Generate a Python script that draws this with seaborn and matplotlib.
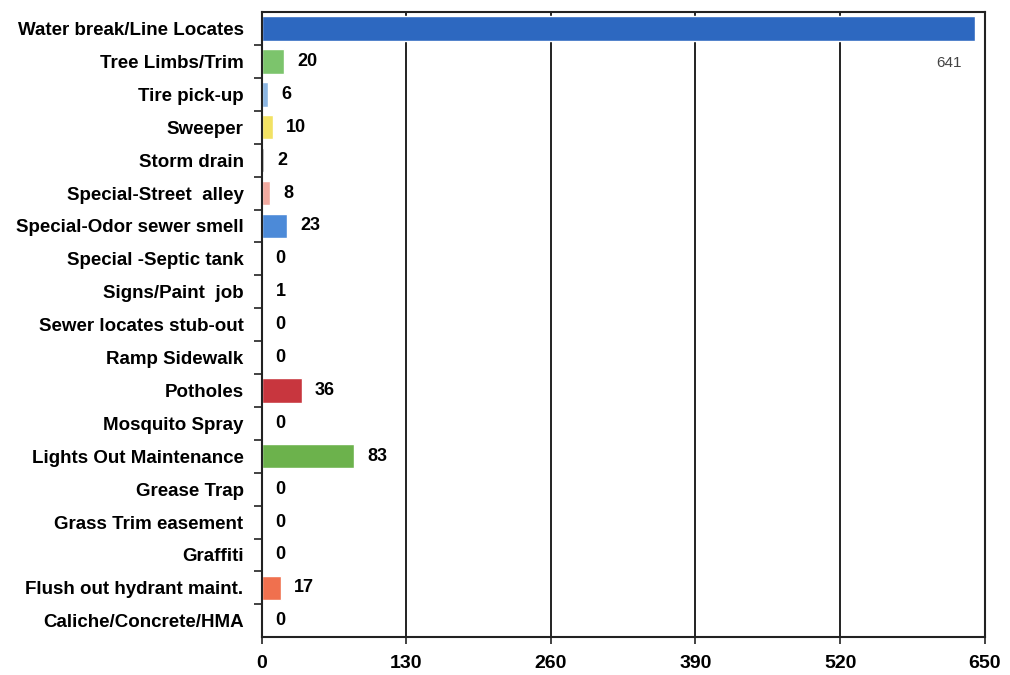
import matplotlib
matplotlib.use("Agg")
import matplotlib.pyplot as plt
import seaborn as sns
import pandas as pd
import numpy as np

# Data
categories = [
    "Water break/Line Locates", "Tree Limbs/Trim", "Tire pick-up", "Sweeper",
    "Storm drain", "Special-Street  alley", "Special-Odor sewer smell",
    "Special -Septic tank", "Signs/Paint  job", "Sewer locates stub-out",
    "Ramp Sidewalk", "Potholes", "Mosquito Spray", "Lights Out Maintenance",
    "Grease Trap", "Grass Trim easement", "Graffiti",
    "Flush out hydrant maint.", "Caliche/Concrete/HMA",
]
counts = [641, 20, 6, 10, 2, 8, 23, 0, 1, 0, 0, 36, 0, 83, 0, 0, 0, 17, 0]
bar_colors = [
    "#2d68c0", "#7cc46c", "#8cb6e2", "#f2e264", "#9a9a9a", "#f2aaa0",
    "#4c8ad8", "#999999", "#999999", "#999999", "#999999", "#c8363e",
    "#999999", "#6cb24c", "#999999", "#999999", "#999999", "#f0704e",
    "#999999",
]
xticks = [0, 130, 260, 390, 520, 650]

df = pd.DataFrame({"category": categories, "count": counts})

sns.set_style("white")
plt.rcParams["font.family"] = ["Liberation Sans", "DejaVu Sans"]

fig = plt.figure(figsize=(10.1, 6.75), dpi=100)
ax = fig.add_axes([0.259, 0.056, 0.716, 0.926])

sns.barplot(
    data=df, y="category", x="count", hue="category",
    palette=dict(zip(categories, bar_colors)), order=categories,
    width=0.74, legend=False, ax=ax, saturation=1,
)

ax.set_xlim(0, 650)
ax.set_ylim(len(categories) - 0.5, -0.5)
ax.set_xticks(xticks)
ax.set_xticklabels([str(t) for t in xticks], fontsize=14, fontweight="bold",
                   color="black")
ax.set_yticks(range(len(categories)))
ax.set_yticklabels(categories, fontsize=13.5, fontweight="bold", color="black")
ax.tick_params(axis="y", which="major", left=False, length=0, pad=13)
ax.tick_params(axis="x", bottom=True, length=5, width=1.2, pad=8,
               direction="out", color="#222222")
ax.set_yticks(np.arange(0.5, len(categories) - 0.5, 1), minor=True)
ax.tick_params(axis="y", which="minor", left=True, length=6, width=1.2,
               direction="out", color="#222222")
ax.set_xlabel("")
ax.set_ylabel("")

ax.grid(axis="x", color="#222222", linewidth=1.4)
ax.set_axisbelow(True)
for s in ax.spines.values():
    s.set_visible(True)
    s.set_color("#222222")
    s.set_linewidth(1.5)

# value labels
for i, v in enumerate(counts):
    if i == 0:
        ax.text(v - 12, i + 1.05, str(v), ha="right", va="center",
                fontsize=11, color="#444444")
    else:
        ax.text(v + 12, i, str(v), ha="left", va="center",
                fontsize=13, fontweight="bold", color="black")

plt.savefig("out.png", dpi=100)
